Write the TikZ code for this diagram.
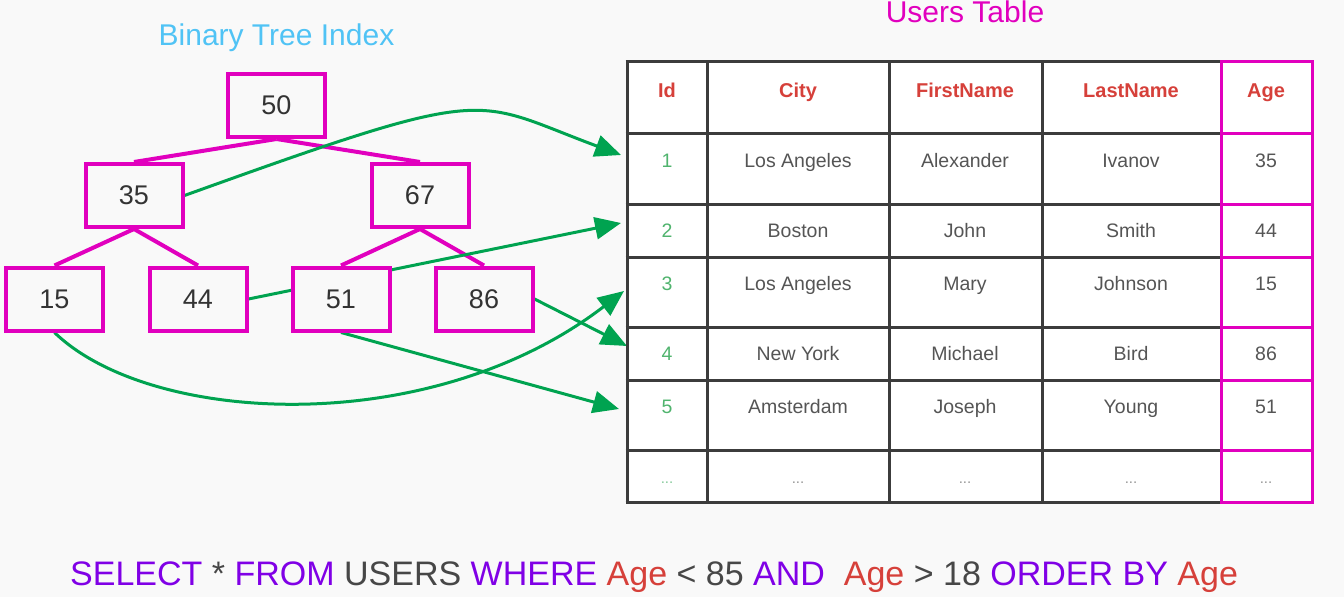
\documentclass[tikz,border=0pt]{standalone}
\usepackage{fontspec}
\setmainfont{Liberation Sans}
\usetikzlibrary{arrows.meta,backgrounds}
\definecolor{bg}{RGB}{249,249,249}
\definecolor{mag}{RGB}{225,0,190}
\definecolor{grn}{RGB}{0,163,80}
\definecolor{idg}{RGB}{80,180,110}
\definecolor{hdr}{RGB}{214,64,58}
\definecolor{txt}{RGB}{85,85,85}
\definecolor{num}{RGB}{51,51,51}
\definecolor{sky}{RGB}{80,195,245}
\definecolor{kw}{RGB}{128,0,230}
\definecolor{gridc}{RGB}{60,60,60}
\definecolor{dots}{RGB}{150,150,150}
\begin{document}
\begin{tikzpicture}[x=1pt,y=-1pt,
  tnode/.style={draw=mag,line width=4pt,fill=bg,minimum width=97pt,minimum height=63pt,inner sep=0pt,text=num,font=\fontsize{27}{32}\selectfont},
  tedge/.style={draw=mag,line width=4pt},
  ptr/.style={draw=grn,line width=3pt,-{Triangle[length=26pt,width=22pt]}},
  cell/.style={text=txt,font=\fontsize{19.5}{23}\selectfont,inner sep=0pt,anchor=base},
  head/.style={text=hdr,font=\bfseries\fontsize{20}{24}\selectfont,inner sep=0pt,anchor=base},
  idc/.style={text=idg,font=\fontsize{19.5}{23}\selectfont,inner sep=0pt,anchor=base},
  dotc/.style={text=dots,font=\fontsize{15}{18}\selectfont,inner sep=0pt,anchor=base},
  title/.style={font=\fontsize{30}{36}\selectfont,inner sep=0pt,anchor=base},
  gline/.style={draw=gridc,line width=3pt},
  aline/.style={draw=mag,line width=3pt},
]
\useasboundingbox (0,0) rectangle (1344,597);

% titles
\node[title,text=sky] (tt) at (276.5,45) {Binary Tree Index};
\node[title,text=mag] (ut) at (965,23) {Users Table};

% tree
\node[tnode] (n50) at (276.5,105.5) {50};
\node[tnode] (n35) at (134,195.5) {35};
\node[tnode] (n67) at (420,195.5) {67};
\node[tnode] (n15) at (54.5,299) {15};
\node[tnode] (n44) at (198,299) {44};
\node[tnode] (n51) at (341,299) {51};
\node[tnode] (n86) at (484,299) {86};

% table
\fill[white] (627,61) rectangle (1312,502);
\foreach \y in {61,133,204,257,327,380,450,502} \draw[gline] (625.5,\y) -- (1313.5,\y);
\foreach \x in {627,707,889,1042,1221,1312} \draw[gline] (\x,61) -- (\x,502);
\foreach \ya/\yb in {61/133,133/204,204/257,257/327,327/380,380/450,450/502}
  \draw[aline] (1221,\ya) rectangle (1312,\yb);

\node[head] (hid) at (667,97) {Id};
\node[head] (hcity) at (798,97) {City};
\node[head] (hfirst) at (965,97) {FirstName};
\node[head] (hlast) at (1131,97) {LastName};
\node[head] (hage) at (1266,97) {Age};

\foreach \i/\y/\b/\c/\d/\e in {1/167/Los Angeles/Alexander/Ivanov/35,
  2/237/Boston/John/Smith/44, 3/290/Los Angeles/Mary/Johnson/15,
  4/360/New York/Michael/Bird/86, 5/413/Amsterdam/Joseph/Young/51}{
  \node[idc] (id\i) at (667,\y) {\i};
  \node[cell] (city\i) at (798,\y) {\b};
  \node[cell] (first\i) at (965,\y) {\c};
  \node[cell] (last\i) at (1131,\y) {\d};
  \node[cell] (age\i) at (1266,\y) {\e};
}
\node[dotc,text=idg!70] (id6) at (667,483) {...};
\node[dotc] (city6) at (798,483) {...};
\node[dotc] (first6) at (965,483) {...};
\node[dotc] (last6) at (1131,483) {...};
\node[dotc] (age6) at (1266,483) {...};

% arrow targets
\coordinate (r1) at (621,155);
\coordinate (r2) at (621,223);
\coordinate (r3) at (624,291);
\coordinate (r4) at (627,346);
\coordinate (r5) at (619,409);

\begin{scope}[on background layer]
  \fill[bg] (0,0) rectangle (1344,597);
  \draw[tedge] (n50.south) -- (n35.north);
  \draw[tedge] (n50.south) -- (n67.north);
  \draw[tedge] (n35.south) -- (n15.north);
  \draw[tedge] (n35.south) -- (n44.north);
  \draw[tedge] (n67.south) -- (n51.north);
  \draw[tedge] (n67.south) -- (n86.north);
  \draw[ptr] (n35.east) .. controls (497,83) and (470,99) .. (r1);
  \draw[ptr] (n44.east) -- (r2);
  \draw[ptr] (n15.south) .. controls (150,425) and (430,440) .. (r3);
  \draw[ptr] (n86.east) -- (r4);
  \draw[ptr] (n51.south) -- (r5);
\end{scope}

% query
\node[inner sep=0pt,anchor=base west,font=\fontsize{34}{40}\selectfont,text=num!90] (sql) at (70,585)
  {\textcolor{kw}{SELECT} * \textcolor{kw}{FROM} USERS \textcolor{kw}{WHERE} \textcolor{hdr}{Age} < 85 \textcolor{kw}{AND}\ \ \textcolor{hdr}{Age} > 18 \textcolor{kw}{ORDER BY} \textcolor{hdr}{Age}};
\end{tikzpicture}
\end{document}
